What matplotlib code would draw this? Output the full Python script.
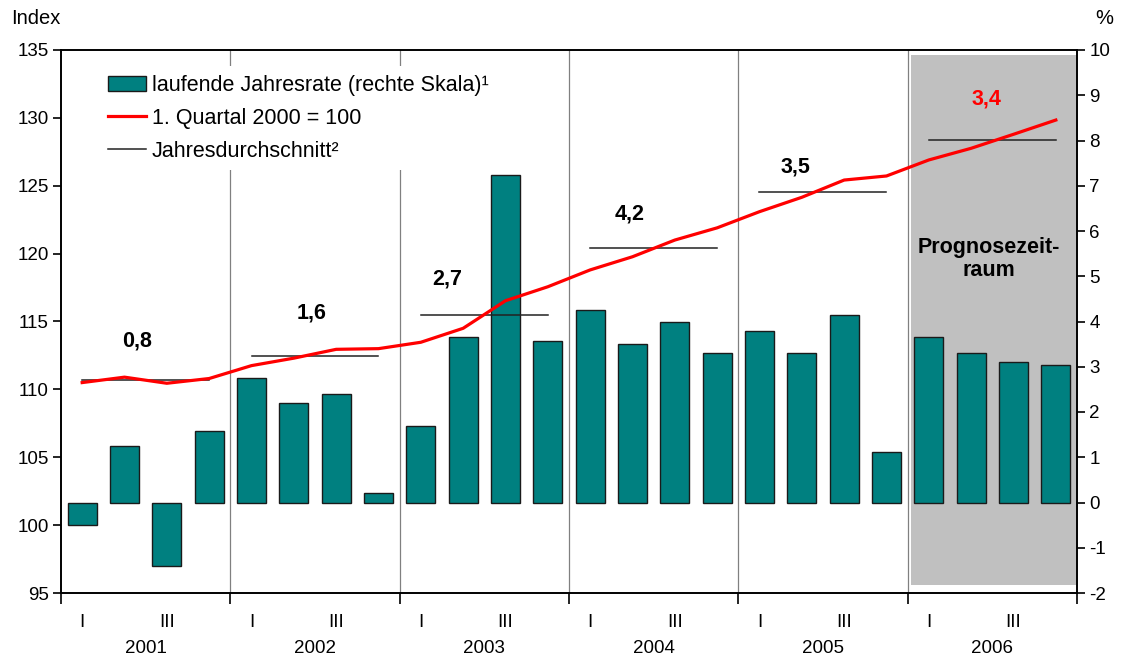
import matplotlib
matplotlib.use("Agg")
import matplotlib.pyplot as plt
from matplotlib.patches import Patch, Rectangle
from matplotlib.lines import Line2D

plt.rcParams['font.family'] = ['Liberation Sans', 'DejaVu Sans']
plt.rcParams['axes.unicode_minus'] = False

years = ["2001", "2002", "2003", "2004", "2005", "2006"]
quarter_labels = ["I", "", "III", ""]
rate = [-0.5, 1.25, -1.4, 1.58, 2.75, 2.2, 2.4, 0.2,
        1.7, 3.66, 7.24, 3.57, 4.25, 3.5, 4.0, 3.3,
        3.8, 3.31, 4.14, 1.12, 3.65, 3.31, 3.11, 3.03]
index = [110.5, 110.9, 110.45, 110.8, 111.75, 112.3, 112.95, 113.0,
         113.47, 114.5, 116.53, 117.56, 118.8, 119.77, 121.0, 121.9,
         123.09, 124.15, 125.42, 125.72, 126.9, 127.76, 128.79, 129.84]
annual_avg = [110.69, 112.48, 115.5, 120.39, 124.56, 128.37]
annual_rate_labels = ["0,8", "1,6", "2,7", "4,2", "3,5", "3,4"]
label_pos_x = [1.8, 5.93, 9.12, 13.44, 17.36, 21.87]
label_pos_y = [113.56, 115.63, 118.1, 122.92, 126.4, 131.37]

fig = plt.figure(figsize=(11.21, 6.59), dpi=100)
ax2 = fig.add_axes([61/1121, 1-593/659, 1016/1121, 543/659])
ax = ax2.twinx()
ax.yaxis.tick_left(); ax.yaxis.set_label_position('left')
ax2.yaxis.tick_right()
ax.set_zorder(ax2.get_zorder() + 1)
ax.patch.set_visible(False)

n = len(rate)
xs = [i + 0.5 for i in range(n)]

# forecast shading
ax2.add_patch(Rectangle((20.08, -1.82), 3.9, 9.89 + 1.82, facecolor='#C0C0C0',
                        edgecolor='none', zorder=0))
for b in range(4, 24, 4):
    ax2.axvline(b, color='#808080', lw=0.9, zorder=0.5)

ax2.bar(xs, rate, width=0.68, color='#008080', edgecolor='#1a1a1a', linewidth=1.0, zorder=2)
ax2.set_ylim(-2, 10)
ax2.set_yticks(range(-2, 11))

ax.plot(xs, index, color='#FF0000', lw=2.3, zorder=3)
for k, v in enumerate(annual_avg):
    ax.plot([4*k + 0.5, 4*k + 3.5], [v, v], color='#222222', lw=1.1, zorder=2.5)
ax.set_ylim(95, 135)
ax.set_yticks(range(95, 136, 5))
ax.set_xlim(0, 24)

for k, t in enumerate(annual_rate_labels):
    ax.text(label_pos_x[k], label_pos_y[k], t, ha='center', va='center',
            fontsize=15.5, fontweight='bold', color='#FF0000' if k == 5 else 'black')
ax.text(21.92, 119.6, "Prognosezeit-\nraum", ha='center', va='center',
        fontsize=15.5, fontweight='bold', linespacing=1.1)

for a in (ax, ax2):
    a.tick_params(axis='y', labelsize=13.5, length=6, width=1.2, direction='out', pad=3)
    for s in a.spines.values():
        s.set_linewidth(1.2)

# x axis
ax2.set_xticks(range(0, 25, 4))
ax2.set_xticklabels([])
ax2.tick_params(axis='x', length=8, width=1.2, direction='out')
ax.tick_params(axis='x', which='both', length=0, labelbottom=False)
minor_pos, minor_lab = [], []
for y in range(len(years)):
    for q in range(4):
        if quarter_labels[q]:
            minor_pos.append(4*y + q + 0.5)
            minor_lab.append(quarter_labels[q])
ax2.set_xticks(minor_pos, minor=True)
ax2.set_xticklabels(minor_lab, minor=True)
ax2.tick_params(axis='x', which='minor', length=0, labelsize=13.5, pad=15)
for y, yr in enumerate(years):
    ax2.text(4*y + 2, -0.1015, yr, transform=ax2.get_xaxis_transform(),
             ha='center', va='center', fontsize=13.5)

fig.text(11/1121, 1-18/659, "Index", ha='left', va='center', fontsize=14.5)
fig.text(1104/1121, 1-18/659, "%", ha='center', va='center', fontsize=14.5)

handles = [Patch(facecolor='#008080', edgecolor='#1a1a1a', linewidth=1.0),
           Line2D([], [], color='#FF0000', lw=2.3),
           Line2D([], [], color='#222222', lw=1.1)]
labels = ["laufende Jahresrate (rechte Skala)¹", "1. Quartal 2000 = 100", "Jahresdurchschnitt²"]
leg = ax.legend(handles, labels, loc='upper left', bbox_to_anchor=(0.0378, 0.97),
                frameon=True, fontsize=15.5, handlelength=1.75, handleheight=0.67,
                handletextpad=0.28, labelspacing=0.55, borderpad=0.4, borderaxespad=0)
leg.get_frame().set_facecolor('white')
leg.get_frame().set_edgecolor('none')
leg.get_frame().set_alpha(1)

fig.savefig("out.png", dpi=100)
